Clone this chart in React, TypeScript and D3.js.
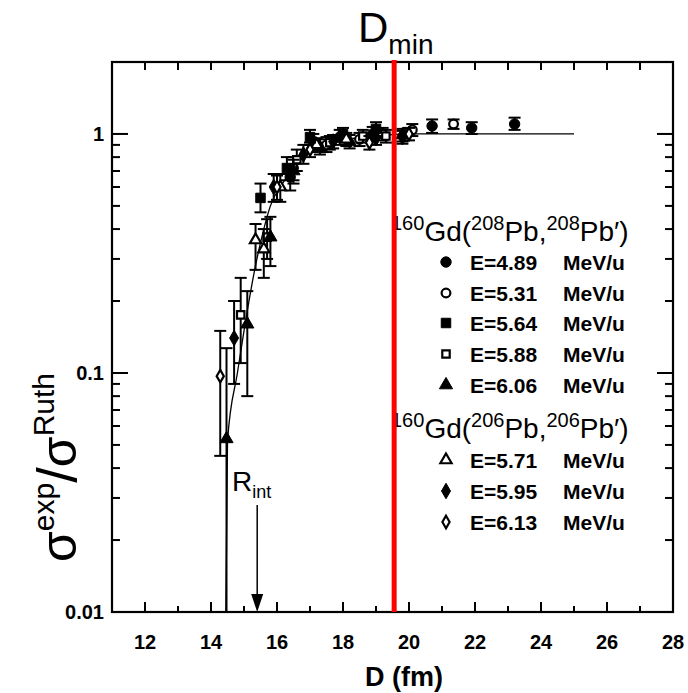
import React from "react";
import * as d3 from "d3";

// [D (fm), ratio, err low, err high]
const e489 = [[16.4, 0.66, 0.58, 0.74], [17.1, 0.93, 0.86, 1.0], [17.9, 0.97, 0.9, 1.04], [18.9, 1.0, 0.93, 1.07], [20.7, 1.08, 1.01, 1.15], [21.9, 1.06, 1.0, 1.12], [23.2, 1.1, 1.04, 1.17]];
const e531 = [[16.5, 0.72, 0.64, 0.8], [17.5, 0.9, 0.84, 0.97], [18.5, 0.95, 0.89, 1.01], [19.2, 1.0, 0.94, 1.06], [20.1, 1.04, 0.98, 1.1], [21.35, 1.1, 1.05, 1.15]];
const e564 = [[15.5, 0.54, 0.47, 0.62], [16.3, 0.72, 0.64, 0.8], [17.0, 0.97, 0.9, 1.04], [18.0, 1.0, 0.93, 1.06], [19.0, 1.05, 0.98, 1.12]];
const e588 = [[14.9, 0.175, 0.11, 0.25], [15.7, 0.37, 0.3, 0.44], [16.6, 0.78, 0.7, 0.86], [17.6, 0.92, 0.86, 0.98], [18.6, 0.98, 0.92, 1.04], [19.3, 0.98, 0.92, 1.04]];
const e606 = [[14.47, 0.053, 0.005, 0.127], [15.1, 0.16, 0.08, 0.22], [15.8, 0.37, 0.28, 0.45], [16.5, 0.7, 0.62, 0.78], [17.3, 0.88, 0.82, 0.95], [18.2, 0.93, 0.87, 0.99], [19.8, 0.99, 0.93, 1.05]];
const e571 = [[15.35, 0.36, 0.27, 0.42], [15.6, 0.33, 0.25, 0.4], [16.1, 0.6, 0.52, 0.68], [17.2, 0.9, 0.84, 0.96], [18.1, 0.95, 0.89, 1.01]];
const e595 = [[14.7, 0.14, 0.09, 0.2], [15.9, 0.6, 0.52, 0.68], [16.8, 0.82, 0.75, 0.9], [17.7, 0.93, 0.87, 0.99], [19.0, 0.96, 0.9, 1.02], [19.8, 0.97, 0.91, 1.03]];
const e613 = [[14.28, 0.097, 0.045, 0.15], [16.0, 0.6, 0.53, 0.67], [17.0, 0.86, 0.8, 0.92], [18.8, 0.92, 0.86, 0.98], [20.0, 1.0, 0.94, 1.06]];

const curveD = [14.45, 14.5, 14.8, 15.0, 15.3, 15.6, 15.8, 16.2, 16.6, 17.0, 17.5, 18.0, 19.0, 20.0, 21.0, 25.0];
const curveV = [0.01, 0.052, 0.1, 0.15, 0.26, 0.4, 0.5, 0.63, 0.75, 0.84, 0.9, 0.94, 0.98, 1.0, 1.0, 1.0];

const xTicks = [12, 14, 16, 18, 20, 22, 24, 26, 28];
const yTicks = [0.01, 0.1, 1];
const dMin = 19.55;
const rInt = 15.4;

const series = [
  { label: "E=4.89", data: e489, shape: d3.symbolCircle, filled: true },
  { label: "E=5.31", data: e531, shape: d3.symbolCircle, filled: false },
  { label: "E=5.64", data: e564, shape: d3.symbolSquare, filled: true },
  { label: "E=5.88", data: e588, shape: d3.symbolSquare, filled: false },
  { label: "E=6.06", data: e606, shape: d3.symbolTriangle, filled: true },
  { label: "E=5.71", data: e571, shape: d3.symbolTriangle, filled: false },
  { label: "E=5.95", data: e595, shape: d3.symbolDiamond, filled: true },
  { label: "E=6.13", data: e613, shape: d3.symbolDiamond, filled: false },
];

const left = 112, right = 673, top = 62, bottom = 612;
const font = "'Liberation Sans', Arial, sans-serif";

const sizeFor = (shape, filled) => {
  if (shape === d3.symbolCircle) return filled ? 85 : 60;
  if (shape === d3.symbolSquare) return filled ? 90 : 55;
  if (shape === d3.symbolTriangle) return filled ? 75 : 55;
  return filled ? 70 : 45;
};

const Marker = ({ s, x, y }) => {
  const path = d3.symbol().type(s.shape).size(sizeFor(s.shape, s.filled))();
  return (
    <path
      d={path}
      transform={`translate(${x},${y})`}
      fill={s.filled ? "black" : "white"}
      stroke="black"
      strokeWidth={s.filled ? 1 : 2.2}
    />
  );
};

const Header = ({ y, mass }) => (
  <text x={391} y={y} fontSize={28}>
    <tspan fontSize={20} dy={-11}>160</tspan>
    <tspan dy={11}>Gd(</tspan>
    <tspan fontSize={20} dy={-11}>{mass}</tspan>
    <tspan dy={11}>Pb,</tspan>
    <tspan fontSize={20} dy={-11}>{mass}</tspan>
    <tspan dy={11}>Pb′)</tspan>
  </text>
);

export default function App() {
  const x = d3.scaleLinear().domain([11, 28]).range([left, right]);
  const y = d3.scaleLog().domain([0.01, 2]).range([bottom, top]).clamp(true);

  const line = d3
    .line()
    .x((d) => x(d[0]))
    .y((d) => y(d[1]))
    .curve(d3.curveMonotoneX);
  const curvePts = curveD.map((d, i) => [d, curveV[i]]);

  const minorX = d3.range(12, 28, 1);
  const minorY = [];
  [0.01, 0.1, 1].forEach((dec) => {
    for (let k = 2; k <= 9; k++) if (dec * k < 2) minorY.push(dec * k);
  });

  const legendRowsA = [262, 293, 323, 354, 385];
  const legendRowsB = [460, 491, 522];

  return (
    <svg width={688} height={693} style={{ position: "absolute", left: 0, top: 0, background: "white" }} fontFamily={font}>
      {/* ticks */}
      <g stroke="black" strokeWidth={2}>
        {minorX.map((d) => {
          const len = d % 2 === 0 ? 10 : 6;
          return (
            <g key={d}>
              <line x1={x(d)} x2={x(d)} y1={bottom} y2={bottom - len} />
              <line x1={x(d)} x2={x(d)} y1={top} y2={top + 8} />
            </g>
          );
        })}
        {minorY.map((v) => (
          <g key={v}>
            <line x1={left} x2={left + 8} y1={y(v)} y2={y(v)} />
            <line x1={right} x2={right - 8} y1={y(v)} y2={y(v)} />
          </g>
        ))}
        {[0.1, 1].map((v) => (
          <g key={v}>
            <line x1={left} x2={left + 16} y1={y(v)} y2={y(v)} />
            <line x1={right} x2={right - 16} y1={y(v)} y2={y(v)} />
          </g>
        ))}
      </g>
      <rect x={left} y={top} width={right - left} height={bottom - top} fill="none" stroke="black" strokeWidth={2.2} />

      {/* tick labels */}
      {xTicks.map((t) => (
        <text key={t} x={x(t)} y={649} textAnchor="middle" fontSize={20} fontWeight="bold">{t}</text>
      ))}
      {yTicks.map((t) => (
        <text key={t} x={104} y={y(t) + 7} textAnchor="end" fontSize={20} fontWeight="bold">{t}</text>
      ))}
      <text x={404} y={686} textAnchor="middle" fontSize={27} fontWeight="bold">D (fm)</text>

      {/* y label */}
      <text transform="translate(76,562) rotate(-90)" fontSize={50}>
        σ<tspan fontSize={30} dy={-22}>exp</tspan>
        <tspan fontSize={56} dy={22}>/</tspan>
        σ<tspan fontSize={30} dy={-22}>Ruth</tspan>
      </text>

      {/* theory curve */}
      <path d={line(curvePts)} fill="none" stroke="black" strokeWidth={1.3} />

      {/* data */}
      {series.map((s, si) => (
        <g key={si}>
          {s.data.map((d, i) => (
            <g key={i} stroke="black" strokeWidth={2}>
              <line x1={x(d[0])} x2={x(d[0])} y1={y(d[2])} y2={y(d[3])} />
              <line x1={x(d[0]) - 6} x2={x(d[0]) + 6} y1={y(d[3])} y2={y(d[3])} />
              {d[2] > 0.01 && <line x1={x(d[0]) - 6} x2={x(d[0]) + 6} y1={y(d[2])} y2={y(d[2])} />}
            </g>
          ))}
          {s.data.map((d, i) => (
            <Marker key={"m" + i} s={s} x={x(d[0])} y={y(d[1])} />
          ))}
        </g>
      ))}

      {/* R_int arrow */}
      <text x={232} y={491} fontSize={28}>R<tspan fontSize={18} dy={7}>int</tspan></text>
      <line x1={x(rInt)} x2={x(rInt)} y1={505} y2={bottom - 16} stroke="black" strokeWidth={1.5} />
      <path d={`M${x(rInt) - 6},${bottom - 18} L${x(rInt) + 6},${bottom - 18} L${x(rInt)},${bottom} Z`} fill="black" />

      {/* legend */}
      <Header y={241} mass="208" />
      <Header y={438} mass="206" />
      {series.map((s, i) => {
        const yy = i < 5 ? legendRowsA[i] : legendRowsB[i - 5];
        return (
          <g key={"l" + i}>
            <Marker s={s} x={446} y={yy} />
            <text x={470} y={yy + 8} fontSize={21} fontWeight="bold">{s.label}</text>
            <text x={563} y={yy + 8} fontSize={21} fontWeight="bold">MeV/u</text>
          </g>
        );
      })}

      {/* D_min */}
      <line x1={x(dMin)} x2={x(dMin)} y1={top - 2} y2={bottom} stroke="#ff0000" strokeWidth={5} />
      <text x={358} y={42} fontSize={42}>D<tspan fontSize={28} dy={12}>min</tspan></text>
    </svg>
  );
}
